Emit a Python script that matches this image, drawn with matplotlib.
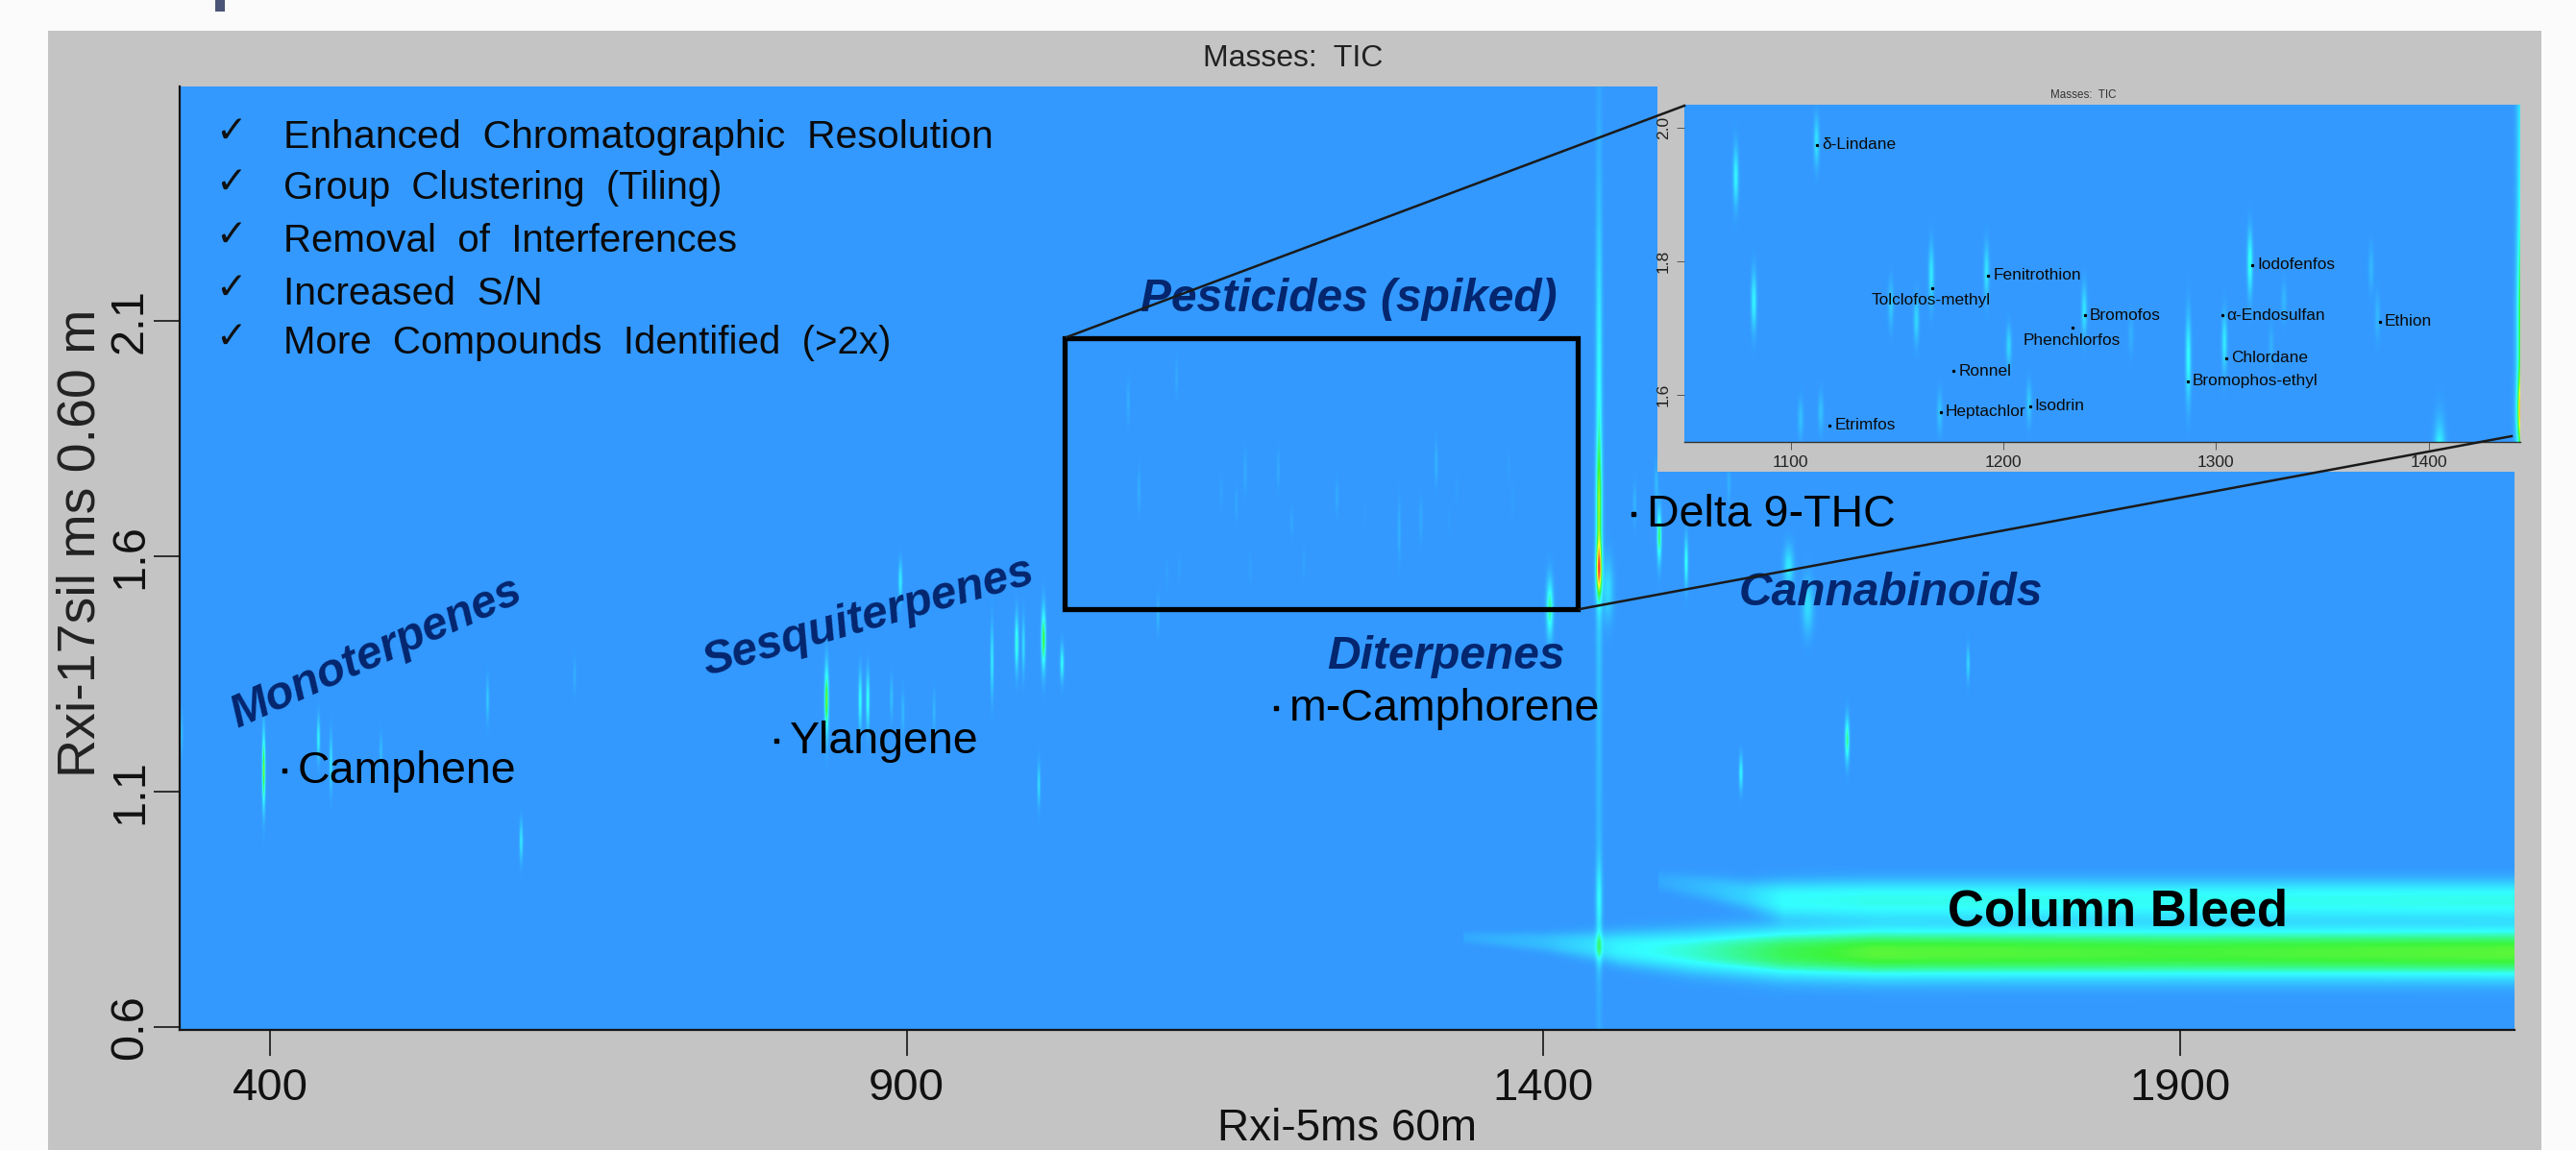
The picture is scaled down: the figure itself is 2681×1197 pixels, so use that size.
import numpy as np
import matplotlib
matplotlib.use("Agg")
import matplotlib.pyplot as plt
from matplotlib.colors import LinearSegmentedColormap
from matplotlib.lines import Line2D
from matplotlib.patches import Rectangle

plt.rcParams['font.family'] = ['Liberation Sans', 'DejaVu Sans']

W, H = 2681, 1197

# ---- data -----------------------------------------------------------------
X_TICKS = [400, 900, 1400, 1900]
Y_TICKS = [0.6, 1.1, 1.6, 2.1]
INSET_X_TICKS = [1100, 1200, 1300, 1400]
INSET_Y_TICKS = [1.6, 1.8, 2.0]

# terpenes, cannabinoids and other peaks outside the zoom window
PEAK_RT1 = [394.7, 437.7, 447.5, 486.8, 570.6, 639, 597, 330, 837, 863.4, 869.4, 888, 897, 921.5,
            895, 967, 986.4, 991.7, 1007.5, 1003.8, 1022, 1097.4, 1405.3, 1491.3, 1512.5,
            1593, 1608, 1734, 1639, 1555.5, 1489, 1472, 1546, 1451]
PEAK_RT2 = [1.145, 1.212, 1.161, 1.184, 1.294, 1.347, 0.994, 1.222, 1.294, 1.294, 1.294, 1.30, 1.269, 1.269,
            1.547, 1.378, 1.416, 1.41, 1.424, 1.114, 1.373, 1.475, 1.49, 1.643, 1.588,
            1.578, 1.494, 1.371, 1.21, 1.139, 1.755, 1.71, 1.755, 1.53]
PEAK_HEIGHT = [0.6, 0.3, 0.24, 0.12, 0.16, 0.07, 0.26, 0.12, 0.6, 0.34, 0.36, 0.13, 0.11, 0.1,
               0.28, 0.27, 0.38, 0.22, 0.55, 0.22, 0.32, 0.1, 0.45, 0.5, 0.34,
               0.26, 0.22, 0.2, 0.46, 0.3, 0.11, 0.09, 0.08, 0.22]
PEAK_SIG_X = [1.0, 1.0, 1.0, 1.0, 1.0, 1.0, 1.1, 1.0, 1.3, 1.1, 1.1, 1.0, 1.0, 1.0,
              1.2, 1.0, 1.2, 1.0, 1.4, 1.0, 1.2, 1.0, 2.2, 1.4, 1.2,
              3.2, 3.6, 1.1, 1.4, 1.2, 1.2, 1.2, 1.2, 3.5]
PEAK_SIG_Y = [0.055, 0.03, 0.04, 0.025, 0.03, 0.025, 0.028, 0.03, 0.05, 0.04, 0.04, 0.03, 0.03, 0.03,
              0.028, 0.05, 0.04, 0.04, 0.045, 0.03, 0.025, 0.025, 0.042, 0.038, 0.036,
              0.03, 0.04, 0.025, 0.032, 0.025, 0.03, 0.03, 0.03, 0.045]

# pesticides: shared by the main plot and the zoomed inset
PEST_RT1 = [1112, 1074, 1082.5, 1166, 1147, 1159, 1192, 1202.5, 1238, 1260, 1287, 1304, 1316, 1332,
            1326, 1373, 1376, 1212, 1170, 1114, 1104.5]
PEST_RT2 = [1.98, 1.928, 1.74, 1.78, 1.736, 1.712, 1.784, 1.673, 1.726, 1.69, 1.654, 1.678, 1.798, 1.74,
            1.673, 1.79, 1.717, 1.587, 1.573, 1.573, 1.563]
PEST_HEIGHT = [0.24, 0.3, 0.3, 0.26, 0.16, 0.2, 0.24, 0.2, 0.25, 0.08, 0.33, 0.26, 0.36, 0.1,
               0.08, 0.1, 0.1, 0.16, 0.14, 0.13, 0.13]
PEST_SIG_Y = [0.025, 0.03, 0.03, 0.03, 0.024, 0.024, 0.028, 0.02, 0.026, 0.02, 0.044, 0.03, 0.032, 0.02,
              0.02, 0.024, 0.024, 0.021, 0.021, 0.02, 0.02]

# main Delta-9-THC streak, drawn as stacked components
THC_RT2 = [1.57, 1.70, 1.95, 1.5, 0.87, 0.76]
THC_HEIGHT = [0.62, 0.40, 0.22, 0.12, 0.24, 0.14]
THC_SIG_Y = [0.04, 0.10, 0.25, 0.75, 0.055, 0.03]
THC_RT1 = 1444

# column bleed envelopes
LOW_RT1 = [1337, 1400, 1444, 1460, 1516, 1589, 1660, 1900, 2170]
LOW_AMP = [0.05, 0.12, 0.24, 0.30, 0.38, 0.52, 0.58, 0.56, 0.58]
LOW_RT2 = [0.79, 0.78, 0.771, 0.767, 0.76, 0.757, 0.757, 0.757, 0.757]
LOW_WID = [0.012, 0.02, 0.03, 0.035, 0.045, 0.054, 0.056, 0.056, 0.056]
UP_RT1 = [1491, 1531, 1560, 1589, 1660, 1900, 2170]
UP_AMP = [0.05, 0.12, 0.19, 0.33, 0.35, 0.34, 0.35]
UP_RT2 = [0.91, 0.894, 0.88, 0.869, 0.869, 0.869, 0.869]
UP_WID = [0.02, 0.026, 0.03, 0.04, 0.042, 0.042, 0.042]

CHECK_ITEMS = ["Enhanced  Chromatographic  Resolution", "Group  Clustering  (Tiling)",
               "Removal  of  Interferences", "Increased  S/N", "More  Compounds  Identified  (>2x)"]
CHECK_SIZES = [29.5, 28.8, 29.0, 29.3, 29.0]
CHECK_ROWS = [143, 196, 251, 306, 357]
COMPOUNDS = ["Camphene", "Ylangene", "m-Camphorene", "Delta 9-THC"]
COMPOUND_RT1 = [411, 797.7, 1190, 1471]
COMPOUND_RT2 = [1.145, 1.208, 1.278, 1.69]
INSET_NAMES = ["δ-Lindane", "Fenitrothion", "Bromofos", "Ronnel", "Iodofenfos", "α-Endosulfan",
               "Chlordane", "Bromophos-ethyl", "Ethion", "Isodrin", "Heptachlor", "Etrimfos"]
INSET_RT1 = [1112.4, 1192.9, 1238.4, 1176.6, 1317, 1302.8, 1304.8, 1286.7, 1377, 1212.4, 1170.6, 1118.4]
INSET_RT2 = [1.975, 1.779, 1.719, 1.635, 1.7945, 1.719, 1.655, 1.62, 1.7095, 1.583, 1.574, 1.554]
INSET_ABOVE = ["Tolclofos-methyl", "Phenchlorfos"]
INSET_ABOVE_RT1 = [1166.4, 1232.5]
INSET_ABOVE_RT2 = [1.76, 1.70]

# ---- colours --------------------------------------------------------------
BLUE = "#3399FF"
GRAY = "#C4C4C4"
NAVY = "#04266E"
cmap = LinearSegmentedColormap.from_list("tic", [
    (0.0, BLUE), (0.33, "#33FFFF"), (0.55, "#3CF53C"), (0.75, "#FFFF33"), (0.88, "#FF9933"), (1.0, "#FF3333")])


def px_axes(fig, l, t, r, b, **kw):
    return fig.add_axes([l / W, 1 - b / H, (r - l) / W, (b - t) / H], **kw)


def fig_rect(fig, l, t, r, b, color, zorder=0):
    fig.add_artist(Rectangle((l / W, 1 - b / H), (r - l) / W, (b - t) / H, transform=fig.transFigure,
                             facecolor=color, edgecolor="none", zorder=zorder))


def add_peak(z, xs, ys, rt1, rt2, h, sx, sy):
    z += h * np.outer(np.exp(-0.5 * ((ys - rt2) / sy) ** 2), np.exp(-0.5 * ((xs - rt1) / sx) ** 2))


def render(xlim, ylim, nx, ny, pest_scale, sig_x_scale):
    xs = np.linspace(xlim[0], xlim[1], nx)
    ys = np.linspace(ylim[0], ylim[1], ny)
    z = np.zeros((ny, nx))
    for a, b, h, sx, sy in zip(PEAK_RT1, PEAK_RT2, PEAK_HEIGHT, PEAK_SIG_X, PEAK_SIG_Y):
        add_peak(z, xs, ys, a, b, h, sx * sig_x_scale, sy)
    for a, b, h, sy in zip(PEST_RT1, PEST_RT2, PEST_HEIGHT, PEST_SIG_Y):
        add_peak(z, xs, ys, a, b, h * pest_scale, 1.1 * sig_x_scale, sy)
    for b, h, sy in zip(THC_RT2, THC_HEIGHT, THC_SIG_Y):
        add_peak(z, xs, ys, THC_RT1, b, h, 2.1 * sig_x_scale, sy)
    for rx, amp, cen, wid in ((LOW_RT1, LOW_AMP, LOW_RT2, LOW_WID), (UP_RT1, UP_AMP, UP_RT2, UP_WID)):
        a = np.interp(xs, rx, amp, left=0, right=amp[-1])
        c = np.interp(xs, rx, cen)
        w = np.interp(xs, rx, wid)
        z += a * np.exp(-(np.abs((ys[:, None] - c[None, :]) / w[None, :])) ** 2.6)
    return np.clip(z, 0, 1)


fig = plt.figure(figsize=(W / 100, H / 100), dpi=100, facecolor="#FBFBFB")
fig_rect(fig, 224, 0, 234, 12, "#4A5578")
fig_rect(fig, 50, 32, 2645, 1197, GRAY)

# ---- main plot ------------------------------------------------------------
xlim = (329, 2163)
ylim = (0.594, 2.598)
ax = px_axes(fig, 187, 90, 2617, 1072, zorder=1)
ax.imshow(render(xlim, ylim, 2430, 982, 0.24, 0.85), origin="lower", extent=(*xlim, *ylim), aspect="auto",
          cmap=cmap, vmin=0, vmax=1, interpolation="bilinear")
ax.set_xlim(xlim)
ax.set_ylim(ylim)
for s in ("top", "right"):
    ax.spines[s].set_visible(False)
for s in ("left", "bottom"):
    ax.spines[s].set_linewidth(1.6)
    ax.spines[s].set_color("#151515")
ax.set_xticks(X_TICKS)
ax.set_yticks(Y_TICKS)
ax.set_xticklabels([str(v) for v in X_TICKS], fontsize=34, color="#111111")
ax.set_yticklabels([str(v) for v in Y_TICKS], fontsize=35, rotation=90, va="center", color="#111111")
ax.tick_params(axis="both", length=19.5, width=1.3, color="#222222")
ax.tick_params(axis="x", pad=8.5)
ax.tick_params(axis="y", pad=1.5)

fig.text(1346 / W, 1 - 61 / H, "Masses:  TIC", fontsize=23, ha="center", va="center", color="#222222", zorder=5)
fig.text(1402 / W, 1 - 1187 / H, "Rxi-5ms 60m", fontsize=33, ha="center", va="baseline", color="#111111", zorder=5)
fig.text(85 / W, 1 - 565 / H, "Rxi-17sil ms 0.60 m", fontsize=40, rotation=90, ha="center", va="center",
         color="#222222", zorder=5)

for item, size, yy in zip(CHECK_ITEMS, CHECK_SIZES, CHECK_ROWS):
    fig.text(240 / W, 1 - (yy - 6) / H, "✓", fontsize=28, ha="center", va="center", color="#111111", zorder=5,
             family=['DejaVu Sans'])
    fig.text(295 / W, 1 - yy / H, item, fontsize=size, ha="left", va="center", color="#0A0A0A", zorder=5)

# compound labels with a small marker dot
ax.plot(COMPOUND_RT1, COMPOUND_RT2, ls="none", marker="s", ms=3.2, color="black", zorder=4)
for name, a, b in zip(COMPOUNDS, COMPOUND_RT1, COMPOUND_RT2):
    ax.annotate(name, (a, b), xytext=(14, -1), textcoords="offset pixels", fontsize=33.5, va="center",
                ha="left", color="black", zorder=5)

fig.text(2204 / W, 1 - 949 / H, "Column Bleed", fontsize=38, fontweight="bold", ha="center", va="center",
         color="black", zorder=5)

for text, cx, cy, rot in (("Monoterpenes", 391, 680, 24), ("Sesquiterpenes", 904, 643, 15.8),
                          ("Pesticides (spiked)", 1404, 312, 0), ("Diterpenes", 1505, 683, 0),
                          ("Cannabinoids", 1968, 618, 0)):
    fig.text(cx / W, 1 - cy / H, text, fontsize=34.5, fontweight="bold", style="italic", color=NAVY,
             rotation=rot, rotation_mode="anchor", ha="center", va="center", zorder=6)

ax.add_patch(Rectangle((1024, 1.488), 1427 - 1024, 2.063 - 1.488, fill=False, edgecolor="black",
                       linewidth=3.8, joinstyle="miter", zorder=3))

# ---- inset ----------------------------------------------------------------
fig_rect(fig, 1725, 90, 2645, 491, GRAY, zorder=1.5)
ixlim = (1050, 1443)
iylim = (1.529, 2.035)
ins = px_axes(fig, 1753, 109, 2623, 460, zorder=2)
ins.imshow(render(ixlim, iylim, 870, 351, 1.0, 0.8), origin="lower", extent=(*ixlim, *iylim), aspect="auto",
           cmap=cmap, vmin=0, vmax=1, interpolation="bilinear")
ins.set_xlim(ixlim)
ins.set_ylim(iylim)
for s in ("top", "right", "left"):
    ins.spines[s].set_visible(False)
ins.spines["bottom"].set_linewidth(1.0)
ins.spines["bottom"].set_color("#333333")
ins.set_xticks(INSET_X_TICKS)
ins.set_yticks(INSET_Y_TICKS)
ins.set_xticklabels([str(v) for v in INSET_X_TICKS], fontsize=12.5, color="#222222")
ins.set_yticklabels([f"{v:.1f}" for v in INSET_Y_TICKS], fontsize=12.5, rotation=90, va="center", color="#222222")
ins.tick_params(axis="both", length=6, width=0.6, color="#444444", pad=4)
fig.text(2168 / W, 1 - 99 / H, "Masses:  TIC", fontsize=8.4, ha="center", va="center", color="#333333", zorder=5)

ins.plot(INSET_RT1 + INSET_ABOVE_RT1, INSET_RT2 + INSET_ABOVE_RT2, ls="none", marker="s", ms=1.3,
         color="black", zorder=4)
for name, a, b in zip(INSET_NAMES, INSET_RT1, INSET_RT2):
    ins.annotate(name, (a, b), xytext=(5, 0), textcoords="offset pixels", fontsize=12.4, va="center",
                 ha="left", color="#0A0A0A", zorder=5)
for name, a, b in zip(INSET_ABOVE, INSET_ABOVE_RT1, INSET_ABOVE_RT2):
    ins.annotate(name, (a, b), xytext=(-1, -13), textcoords="offset pixels", fontsize=12.4, va="center",
                 ha="center", color="#0A0A0A", zorder=5)

# ---- connector lines ------------------------------------------------------
for (x0, y0, x1, y1) in ((1110, 351, 1753, 110), (1644, 634, 2614, 454)):
    fig.add_artist(Line2D([x0 / W, x1 / W], [1 - y0 / H, 1 - y1 / H], transform=fig.transFigure,
                          color="#1A1A1A", linewidth=1.8, zorder=7))

fig.savefig("out.png", dpi=100, facecolor=fig.get_facecolor())
